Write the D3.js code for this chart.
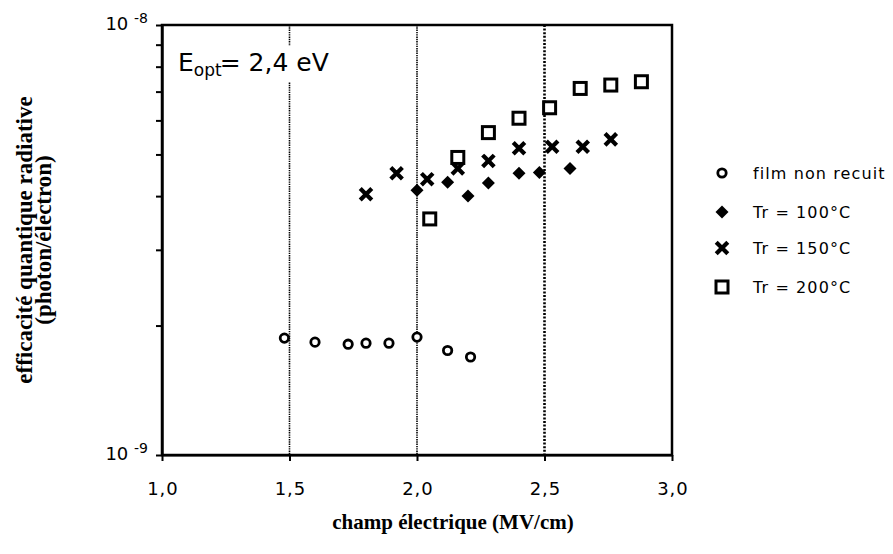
<!DOCTYPE html>
<html><head><meta charset="utf-8">
<script src="https://cdn.jsdelivr.net/npm/d3@7"></script>
<style>body{margin:0;background:#fff} svg{display:block}</style>
</head><body>
<svg id="c" width="893" height="554"></svg>
<script>
// ---- data ----
const xTicks = [1.0, 1.5, 2.0, 2.5, 3.0];
const xTickLabels = ["1,0", "1,5", "2,0", "2,5", "3,0"];
const yTicks = [1e-9, 1e-8];
const yTickExp = ["-9", "-8"];
const yMinorTicks = [2e-9, 3e-9, 4e-9, 5e-9, 6e-9, 7e-9, 8e-9, 9e-9];
const gridX = [1.5, 2.0, 2.5];
const seriesNames = ["film non recuit", "Tr = 100°C", "Tr = 150°C", "Tr = 200°C"];

const xNonRecuit = [1.48, 1.60, 1.73, 1.80, 1.89, 2.00, 2.12, 2.21];
const yNonRecuit = [1.87e-9, 1.83e-9, 1.81e-9, 1.82e-9, 1.82e-9, 1.88e-9, 1.75e-9, 1.69e-9];
const xTr100 = [2.00, 2.12, 2.20, 2.28, 2.40, 2.48, 2.60];
const yTr100 = [4.13e-9, 4.31e-9, 4.00e-9, 4.29e-9, 4.52e-9, 4.54e-9, 4.64e-9];
const xTr150 = [1.80, 1.92, 2.04, 2.16, 2.28, 2.40, 2.53, 2.65, 2.76];
const yTr150 = [4.04e-9, 4.52e-9, 4.38e-9, 4.64e-9, 4.83e-9, 5.17e-9, 5.21e-9, 5.21e-9, 5.42e-9];
const xTr200 = [2.05, 2.16, 2.28, 2.40, 2.52, 2.64, 2.76, 2.88];
const yTr200 = [3.54e-9, 4.92e-9, 5.62e-9, 6.07e-9, 6.42e-9, 7.12e-9, 7.25e-9, 7.38e-9];

const xTitle = "champ électrique (MV/cm)";
const yTitle1 = "efficacité quantique radiative";
const yTitle2 = "(photon/électron)";

// ---- layout ----
const L = 162, R = 672, T = 25, B = 455;
const sans = "'DejaVu Sans', sans-serif";
const serif = "'Liberation Serif', 'Times New Roman', serif";

const svg = d3.select("#c");
svg.append("rect").attr("width", 893).attr("height", 554).attr("fill", "#fff");

const x = d3.scaleLinear().domain([1, 3]).range([L, R]);
const y = d3.scaleLog().domain([1e-9, 1e-8]).range([B, T]);

// grid lines
svg.append("g").selectAll("line").data(gridX).enter().append("line")
  .attr("x1", d => x(d)).attr("x2", d => x(d))
  .attr("y1", T).attr("y2", B)
  .attr("stroke", "#000")
  .attr("stroke-width", d => d === 2.5 ? 2.6 : 1.6)
  .attr("stroke-dasharray", d => d === 2.5 ? "2,1.6" : "1.4,0.9");

// annotation with white background
const annG = svg.append("g");
const annBg = annG.append("rect").attr("fill", "#fff");
const ann = annG.append("text").attr("x", 178).attr("y", 71)
  .attr("font-family", sans).attr("font-size", 25).attr("fill", "#000");
ann.append("tspan").text("E");
ann.append("tspan").attr("font-size", 17).attr("dy", 5).text("opt");
ann.append("tspan").attr("dy", -5).attr("dx", -2).text("= 2,4 eV");
const bb = ann.node().getBBox();
annBg.attr("x", bb.x - 4).attr("y", Math.max(bb.y - 2, T + 3)).attr("width", bb.width + 8).attr("height", bb.height + 4);

// plot border
svg.append("rect")
  .attr("x", x(1)).attr("y", y(1e-8)).attr("width", x(3) - x(1)).attr("height", y(1e-9) - y(1e-8))
  .attr("fill", "none").attr("stroke", "#000").attr("stroke-width", 2.5);

// axes ticks (outward)
const yAxis = d3.axisLeft(y).tickValues(yMinorTicks.concat(yTicks)).tickSize(6).tickSizeOuter(0).tickFormat("");
const gy = svg.append("g").attr("transform", `translate(${L},0)`).call(yAxis);
gy.select(".domain").attr("stroke", "#000").attr("stroke-width", 2.4);
gy.selectAll(".tick line").attr("stroke", "#000").attr("stroke-width", 2);

const xAxis = d3.axisBottom(x).tickValues(xTicks).tickSize(6).tickSizeOuter(0).tickFormat("");
const gx = svg.append("g").attr("transform", `translate(0,${B})`).call(xAxis);
gx.select(".domain").attr("stroke", "#000").attr("stroke-width", 2.2);
gx.selectAll(".tick line").attr("stroke", "#000").attr("stroke-width", 2);

// x tick labels
svg.append("g").selectAll("text").data(xTicks).enter().append("text")
  .attr("x", d => x(d) + 1).attr("y", B + 40).attr("text-anchor", "middle")
  .attr("font-family", sans).attr("font-size", 18).attr("letter-spacing", 1)
  .text((d, i) => xTickLabels[i]);

// y tick labels
yTicks.forEach((v, i) => {
  const t = svg.append("text").attr("x", L - 14).attr("y", y(v) + 5).attr("text-anchor", "end")
    .attr("font-family", sans).attr("font-size", 18).attr("fill", "#000");
  t.append("tspan").text("10 ");
  t.append("tspan").attr("font-size", 14).attr("dy", -7).text(yTickExp[i]);
});

// axis titles
svg.append("text").attr("x", 453).attr("y", 529).attr("text-anchor", "middle")
  .attr("font-family", serif).attr("font-weight", "bold").attr("font-size", 21).text(xTitle);
svg.append("text").attr("transform", "translate(32,240) rotate(-90)").attr("text-anchor", "middle")
  .attr("font-family", serif).attr("font-weight", "bold").attr("font-size", 23).text(yTitle1);
svg.append("text").attr("transform", "translate(51,240) rotate(-90)").attr("text-anchor", "middle")
  .attr("font-family", serif).attr("font-weight", "bold").attr("font-size", 23).text(yTitle2);

// markers
function drawMarker(g, kind) {
  if (kind === 0) g.append("circle").attr("r", 4.2).attr("fill", "#fff").attr("stroke", "#000").attr("stroke-width", 2.8);
  if (kind === 1) g.append("path").attr("d", "M0,-6.5L6.5,0L0,6.5L-6.5,0Z").attr("fill", "#000");
  if (kind === 2) g.append("path").attr("d", "M-4.3,-4.3L4.3,4.3M4.3,-4.3L-4.3,4.3")
    .attr("stroke", "#000").attr("stroke-width", 4.2).attr("stroke-linecap", "square").attr("fill", "none");
  if (kind === 3) g.append("rect").attr("x", -6).attr("y", -6).attr("width", 12).attr("height", 12)
    .attr("fill", "#fff").attr("stroke", "#000").attr("stroke-width", 3);
}
const series = [[xNonRecuit, yNonRecuit], [xTr100, yTr100], [xTr150, yTr150], [xTr200, yTr200]];
series.forEach(([xs, ys], k) => {
  const pts = xs.map((v, i) => [v, ys[i]]);
  svg.append("g").selectAll("g").data(pts).enter().append("g")
    .attr("transform", d => `translate(${x(d[0])},${y(d[1])})`)
    .each(function () { drawMarker(d3.select(this), k); });
});

// legend
const legY = [173, 212, 248, 287];
seriesNames.forEach((name, k) => {
  const g = svg.append("g").attr("transform", `translate(722,${legY[k]})`);
  drawMarker(g, k);
  svg.append("text").attr("x", 753).attr("y", legY[k] + 6)
    .attr("font-family", sans).attr("font-size", 16).attr("letter-spacing", 1.1).text(name);
});
</script>
</body></html>
